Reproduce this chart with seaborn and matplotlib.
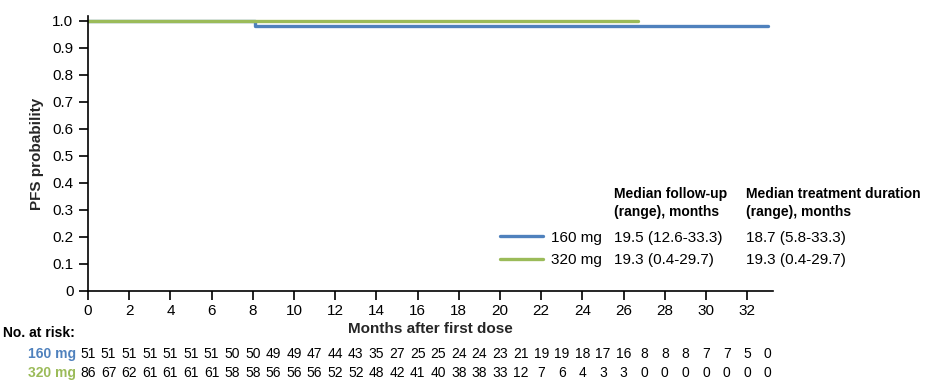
import pandas as pd
import numpy as np
import seaborn as sns
import matplotlib.pyplot as plt
from matplotlib import transforms

# KM step curves (months, PFS probability)
time_160 = [0.0, 8.1, 33.0]
surv_160 = [1.0, 0.98, 0.98]
time_320 = [0.0, 26.7]
surv_320 = [1.0, 1.0]

doses = ["160 mg", "320 mg"]
colors = ["#4F81BD", "#9BBB59"]
followup = ["19.5 (12.6-33.3)", "19.3 (0.4-29.7)"]
duration = ["18.7 (5.8-33.3)", "19.3 (0.4-29.7)"]

risk_months = list(range(34))
risk_160 = [51, 51, 51, 51, 51, 51, 51, 50, 50, 49, 49, 47, 44, 43, 35, 27, 25,
            25, 24, 24, 23, 21, 19, 19, 18, 17, 16, 8, 8, 8, 7, 7, 5, 0]
risk_320 = [86, 67, 62, 61, 61, 61, 61, 58, 58, 56, 56, 56, 52, 52, 48, 42, 41,
            40, 38, 38, 33, 12, 7, 6, 4, 3, 3, 0, 0, 0, 0, 0, 0, 0]

sns.set_theme(style="ticks")
plt.rcParams["font.family"] = ["Liberation Sans", "DejaVu Sans"]
plt.rcParams["text.color"] = "black"

W, H = 939, 385
fig = plt.figure(figsize=(W / 100, H / 100), dpi=100)
ax = fig.add_axes([88 / W, 1 - 291 / H, (773 - 88) / W, (291 - 16) / H])

df = pd.concat([
    pd.DataFrame({"month": time_160, "surv": surv_160, "dose": doses[0]}),
    pd.DataFrame({"month": time_320, "surv": surv_320, "dose": doses[1]}),
])
sns.lineplot(data=df, x="month", y="surv", hue="dose", palette=colors,
             drawstyle="steps-post", linewidth=2.4, ax=ax, legend=False,
             estimator=None, sort=False)

ax.set_xlim(0, 33.25)
ax.set_ylim(0, 1.017)
ax.set_xticks(np.arange(0, 33, 2))
ax.set_yticks(np.arange(0, 1.01, 0.1))
ax.set_yticklabels(["0"] + [f"{v:.1f}" for v in np.arange(0.1, 1.01, 0.1)])
ax.tick_params(axis="both", labelsize=11, length=6.5, width=1.2, colors="black",
               labelcolor="black", pad=3)
ax.tick_params(axis="y", pad=4)
for s in ["top", "right"]:
    ax.spines[s].set_visible(False)
for s in ["left", "bottom"]:
    ax.spines[s].set_color("black")
    ax.spines[s].set_linewidth(1.2)

ax.set_xlabel("Months after first dose", fontsize=11, fontweight="bold", labelpad=3)
ax.set_ylabel("PFS probability", fontsize=11, fontweight="bold", labelpad=6)

# legend with summary table
handles = ax.get_lines()[:2]
ax.legend(handles, doses, loc="center left", frameon=False, fontsize=11,
          bbox_to_anchor=(500 / W, 1 - 249 / H), bbox_transform=fig.transFigure,
          handlelength=2.8, handletextpad=0.55, labelspacing=0.58,
          borderpad=0, borderaxespad=0)

hdr = dict(fontsize=10, fontweight="bold", va="center", ha="left")
fig.text(614 / W, 1 - 194 / H, "Median follow-up", **hdr)
fig.text(614 / W, 1 - 212 / H, "(range), months", **hdr)
fig.text(746 / W, 1 - 194 / H, "Median treatment duration", **hdr)
fig.text(746 / W, 1 - 212 / H, "(range), months", **hdr)
for i in range(2):
    y = 1 - (238 + 22 * i) / H
    fig.text(614 / W, y, followup[i], fontsize=11, va="center", ha="left")
    fig.text(746 / W, y, duration[i], fontsize=11, va="center", ha="left")

# number at risk table
trans = transforms.blended_transform_factory(ax.transData, fig.transFigure)
fig.text(3 / W, 1 - 333 / H, "No. at risk:", fontsize=10, fontweight="bold",
         va="center", ha="left")
for i, risk in enumerate([risk_160, risk_320]):
    y = 1 - (354 + 19 * i) / H
    fig.text(76 / W, y, doses[i], fontsize=10, fontweight="bold",
             color=colors[i], va="center", ha="right")
    for m, n in zip(risk_months, risk):
        ax.text(m, y, str(n), transform=trans, fontsize=10, va="center",
                ha="center", clip_on=False)

plt.savefig("out.png", dpi=100)
